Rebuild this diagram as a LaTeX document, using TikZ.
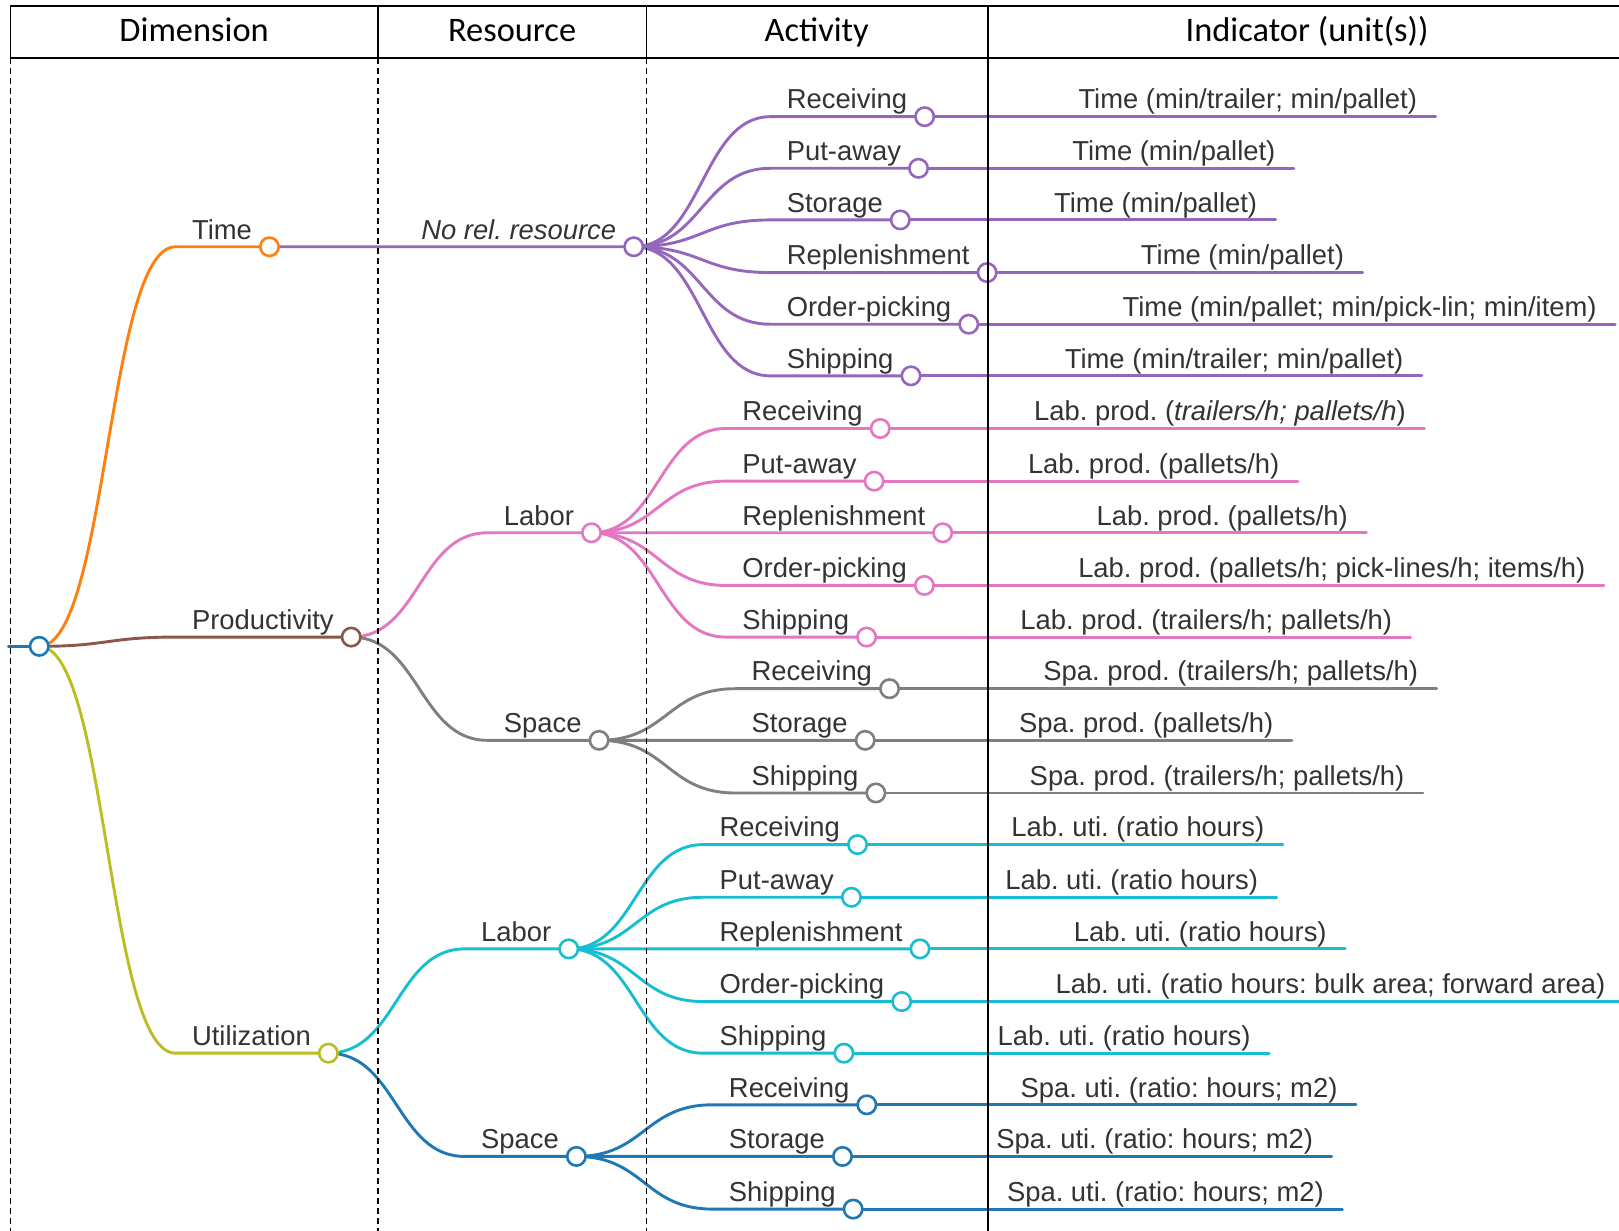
\documentclass[tikz,border=0pt]{standalone}
\usepackage{fontspec}
\setmainfont{Liberation Sans}
\newfontfamily\hdrfont{Carlito}
\usetikzlibrary{calc}
\pgfdeclarelayer{bg}
\pgfdeclarelayer{fg}
\pgfsetlayers{bg,main,fg}
\definecolor{cblue}{HTML}{1F77B4}
\definecolor{corange}{HTML}{FF7F0E}
\definecolor{cpurple}{HTML}{9467BD}
\definecolor{cbrown}{HTML}{8C564B}
\definecolor{cpink}{HTML}{E377C2}
\definecolor{cgray}{HTML}{7F7F7F}
\definecolor{colive}{HTML}{BCBD22}
\definecolor{ccyan}{HTML}{17BECF}
\definecolor{ctext}{HTML}{333333}
\frenchspacing
\tikzset{
  mmlbl/.style={inner sep=0pt, outer sep=0pt, font=\fontsize{13.7}{16}\selectfont, text=ctext},
  mmline/.style={line width=1.45pt, line cap=round},
  mmdot/.style={circle, fill=white, line width=1.3pt, minimum size=9.2pt, inner sep=0pt},
  hdr/.style={inner sep=0pt, font=\hdrfont\fontsize{17.2}{20}\selectfont, text=black},
  solidrule/.style={line width=0.8pt, black},
  dashrule/.style={line width=0.7pt, black, dash pattern=on 3pt off 2pt},
}
% #1 name, #2 parent, #3 colour, #4 start x, #5 y, #6 text
\newcommand\mmnode[6]{%
  \coordinate (s#1) at (#4,#5);
  \node[mmlbl, anchor=base west] (t#1) at (#4+16,#5-7.5) {#6};
  \coordinate (c#1) at ($(t#1.base east)+(17,7.5)$);
  \begin{pgfonlayer}{bg}
    \coordinate (m#1) at ($(c#2)!0.5!(s#1)$);
    \draw[mmline, draw=#3] (c#2) .. controls (m#1 |- c#2) and (m#1 |- s#1) .. (s#1) -- (c#1);
  \end{pgfonlayer}
  \node[mmdot, draw=#3] (d#1) at (c#1) {};
}
% #1 name, #2 parent, #3 colour, #4 text
\newcommand\mmleaf[4]{%
  \node[mmlbl, anchor=base west] (t#1) at ($(c#2)+(149,-7.5)$) {#4};
  \coordinate (e#1) at ($(t#1.base east)+(18,7.5)$);
  \begin{pgfonlayer}{bg}
    \draw[mmline, draw=#3] (c#2) -- (e#1);
  \end{pgfonlayer}
}
\begin{document}
\begin{tikzpicture}[x=0.51625pt, y=-0.51625pt]
\useasboundingbox (0,0) rectangle (1568,1192);
\begin{pgfonlayer}{bg}
  \fill[white] (0,0) rectangle (1568,1192);
\end{pgfonlayer}

% header
\node[hdr, anchor=base] (hD) at (188,40) {Dimension};
\node[hdr, anchor=base] (hR) at (496,40) {Resource};
\node[hdr, anchor=base] (hA) at (791,40) {Activity};
\node[hdr, anchor=base] (hI) at (1266,40) {Indicator (unit(s))};

% root
\coordinate (rl) at (8,626);
\coordinate (cR) at (38,626);
\begin{pgfonlayer}{bg}
  \draw[mmline, draw=cblue] (rl) -- (cR);
\end{pgfonlayer}
\node[mmdot, draw=cblue] (dR) at (cR) {};

% dimensions
\mmnode{T}{R}{corange}{170}{239}{Time}
\mmnode{P}{R}{cbrown}{170}{617}{Productivity}
\mmnode{U}{R}{colive}{170}{1020}{Utilization}

% resources
\mmnode{N}{T}{cpurple}{392}{239}{\textit{No rel. resource}}
\mmnode{LP}{P}{cpink}{472}{516}{Labor}
\mmnode{SP}{P}{cgray}{472}{717}{Space}
\mmnode{LU}{U}{ccyan}{450}{919}{Labor}
\mmnode{SU}{U}{cblue}{450}{1120}{Space}

% activities
\mmnode{A1}{N}{cpurple}{746}{113}{Receiving}
\mmnode{A2}{N}{cpurple}{746}{163}{Put-away}
\mmnode{A3}{N}{cpurple}{746}{213}{Storage}
\mmnode{A4}{N}{cpurple}{746}{264}{Replenishment}
\mmnode{A5}{N}{cpurple}{746}{314}{Order-picking}
\mmnode{A6}{N}{cpurple}{746}{364}{Shipping}
\mmnode{A7}{LP}{cpink}{703}{415}{Receiving}
\mmnode{A8}{LP}{cpink}{703}{466}{Put-away}
\mmnode{A9}{LP}{cpink}{703}{516}{Replenishment}
\mmnode{A10}{LP}{cpink}{703}{567}{Order-picking}
\mmnode{A11}{LP}{cpink}{703}{617}{Shipping}
\mmnode{A12}{SP}{cgray}{712}{667}{Receiving}
\mmnode{A13}{SP}{cgray}{712}{717}{Storage}
\mmnode{A14}{SP}{cgray}{712}{768}{Shipping}
\mmnode{A15}{LU}{ccyan}{681}{818}{Receiving}
\mmnode{A16}{LU}{ccyan}{681}{869}{Put-away}
\mmnode{A17}{LU}{ccyan}{681}{919}{Replenishment}
\mmnode{A18}{LU}{ccyan}{681}{970}{Order-picking}
\mmnode{A19}{LU}{ccyan}{681}{1020}{Shipping}
\mmnode{A20}{SU}{cblue}{690}{1070}{Receiving}
\mmnode{A21}{SU}{cblue}{690}{1120}{Storage}
\mmnode{A22}{SU}{cblue}{690}{1171}{Shipping}

% indicators
\mmleaf{I1}{A1}{cpurple}{Time (min/trailer; min/pallet)}
\mmleaf{I2}{A2}{cpurple}{Time (min/pallet)}
\mmleaf{I3}{A3}{cpurple}{Time (min/pallet)}
\mmleaf{I4}{A4}{cpurple}{Time (min/pallet)}
\mmleaf{I5}{A5}{cpurple}{Time (min/pallet; min/pick-lin; min/item)}
\mmleaf{I6}{A6}{cpurple}{Time (min/trailer; min/pallet)}
\mmleaf{I7}{A7}{cpink}{Lab. prod. (\textit{trailers/h; pallets/h})}
\mmleaf{I8}{A8}{cpink}{Lab. prod. (pallets/h)}
\mmleaf{I9}{A9}{cpink}{Lab. prod. (pallets/h)}
\mmleaf{I10}{A10}{cpink}{Lab. prod. (pallets/h; pick-lines/h; items/h)}
\mmleaf{I11}{A11}{cpink}{Lab. prod. (trailers/h; pallets/h)}
\mmleaf{I12}{A12}{cgray}{Spa. prod. (trailers/h; pallets/h)}
\mmleaf{I13}{A13}{cgray}{Spa. prod. (pallets/h)}
\mmleaf{I14}{A14}{cgray}{Spa. prod. (trailers/h; pallets/h)}
\mmleaf{I15}{A15}{ccyan}{Lab. uti. (ratio hours)}
\mmleaf{I16}{A16}{ccyan}{Lab. uti. (ratio hours)}
\mmleaf{I17}{A17}{ccyan}{Lab. uti. (ratio hours)}
\mmleaf{I18}{A18}{ccyan}{Lab. uti. (ratio hours: bulk area; forward area)}
\mmleaf{I19}{A19}{ccyan}{Lab. uti. (ratio hours)}
\mmleaf{I20}{A20}{cblue}{Spa. uti. (ratio: hours; m2)}
\mmleaf{I21}{A21}{cblue}{Spa. uti. (ratio: hours; m2)}
\mmleaf{I22}{A22}{cblue}{Spa. uti. (ratio: hours; m2)}

% table rules
\begin{pgfonlayer}{fg}
  \draw[solidrule] (10,6) -- (1570,6);
  \draw[solidrule] (10,56) -- (1570,56);
  \draw[solidrule] (10,6) -- (10,56);
  \draw[solidrule] (366,6) -- (366,56);
  \draw[solidrule] (626,6) -- (626,56);
  \draw[solidrule] (957,6) -- (957,1194);
  \draw[dashrule] (10,56) -- (10,1194);
  \draw[dashrule] (366,56) -- (366,1194);
  \draw[dashrule] (626,56) -- (626,1194);
\end{pgfonlayer}
\end{tikzpicture}
\end{document}
